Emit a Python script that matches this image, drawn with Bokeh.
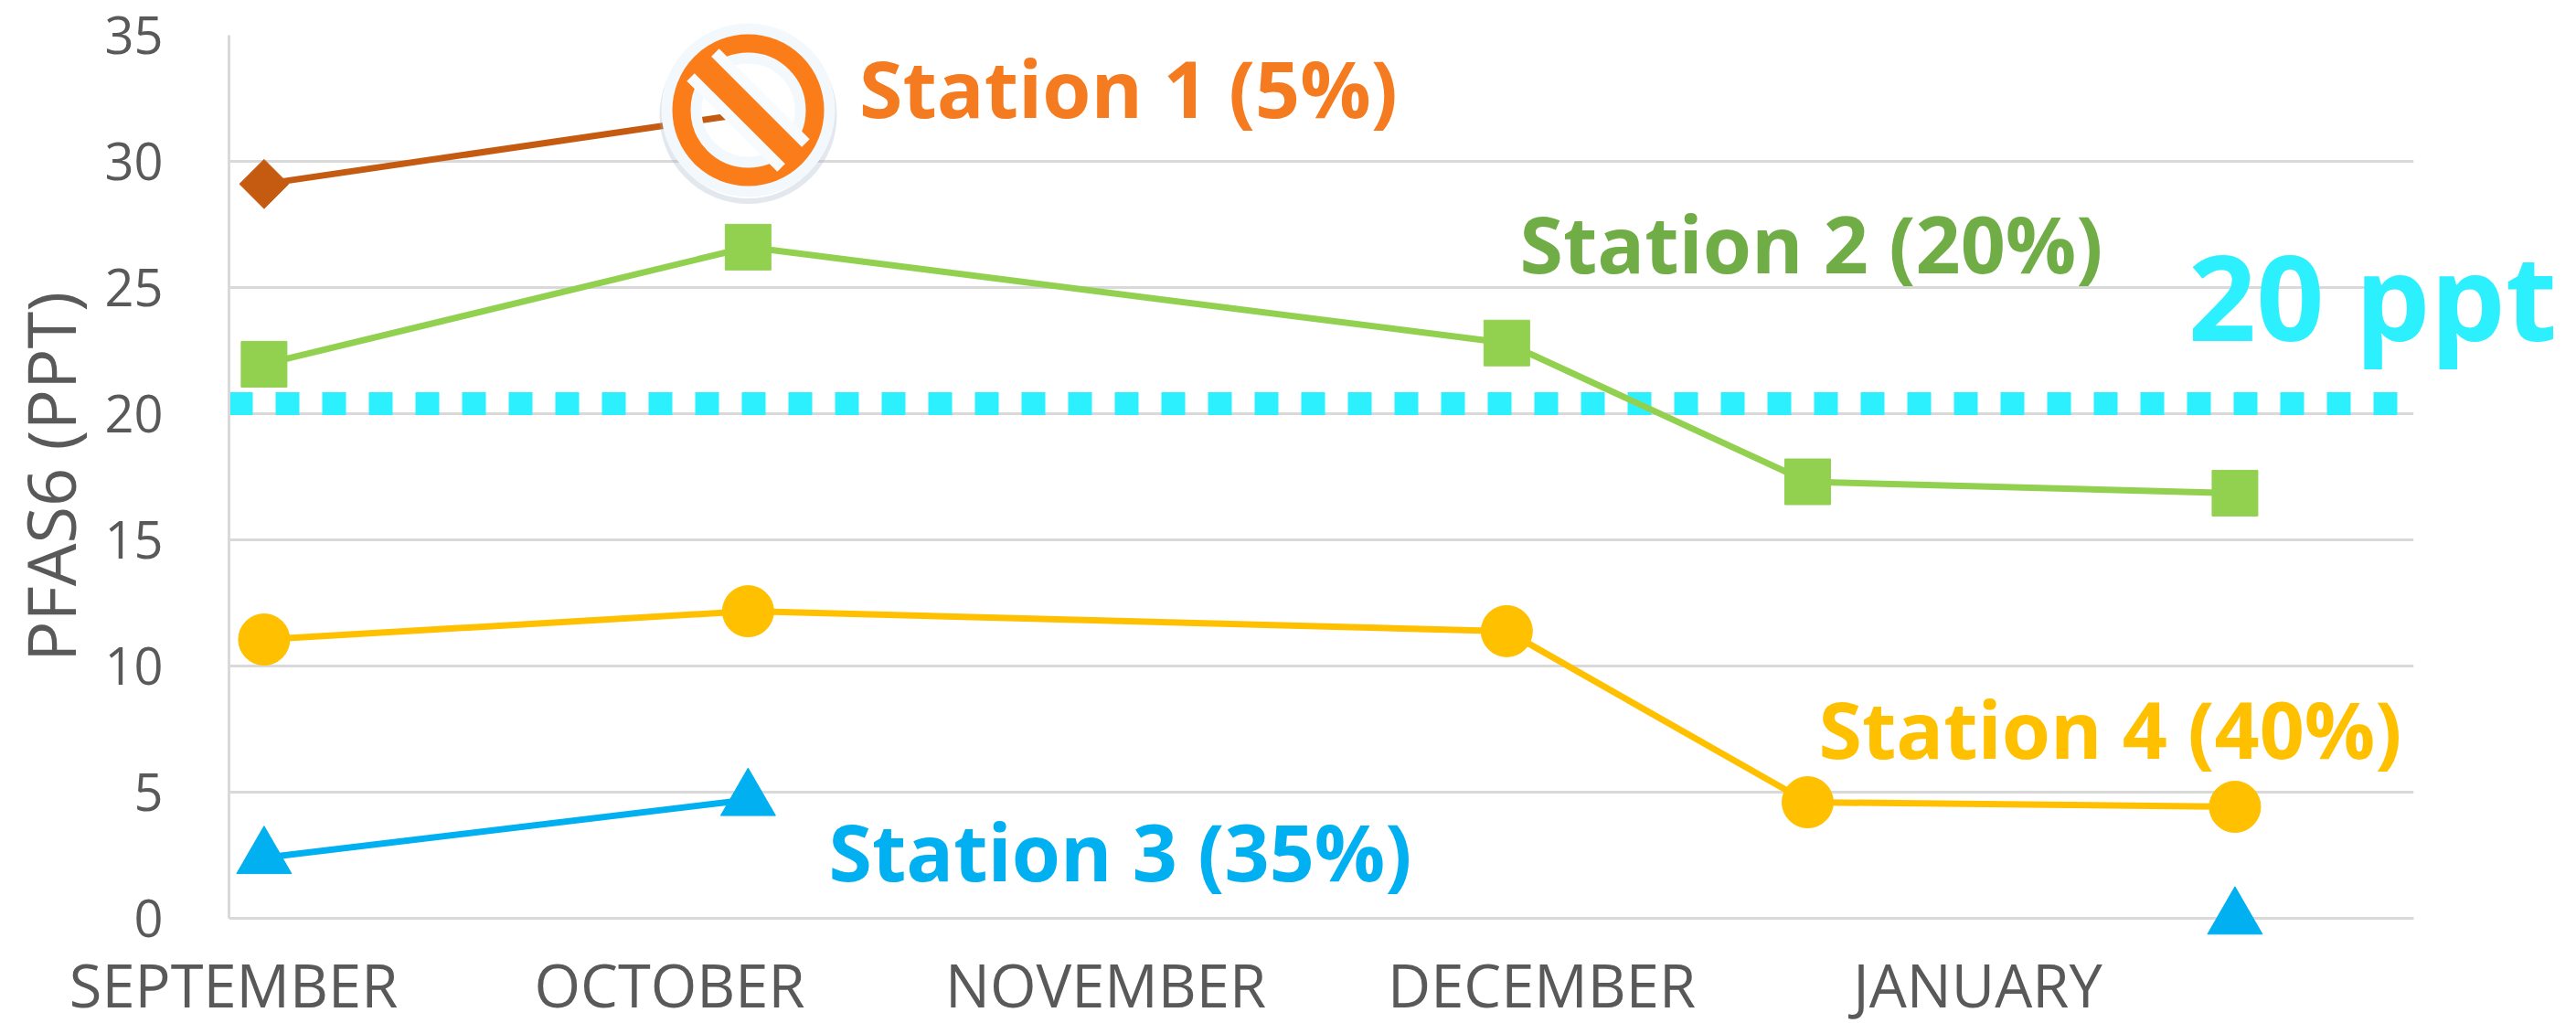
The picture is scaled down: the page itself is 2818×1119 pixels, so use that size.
from math import pi
from bokeh.plotting import figure
from bokeh.models import Range1d, FixedTicker
from bokeh.core.properties import value
from bokeh.embed import file_html
from bokeh.resources import INLINE

months = ["SEPTEMBER", "OCTOBER", "NOVEMBER", "DECEMBER", "JANUARY"]
month_pos = [0, 1, 2, 3, 4]
yticks = [0, 5, 10, 15, 20, 25, 30, 35]

x_all = [0.07, 1.18, 2.92, 3.61, 4.59]
s1_x = [0.07, 1.18]
s1_y = [29.1, 31.9]
s2_y = [21.96, 26.6, 22.8, 17.3, 16.85]
s3_x = [0.07, 1.18]
s3_y = [2.4, 4.7]
s3_extra_x = [4.59]
s3_extra_y = [0.0]
s4_y = [11.05, 12.17, 11.38, 4.6, 4.42]
limit = 20.4

C1, C1T = "#C55A11", "#F47B20"
C2, C2T = "#92D050", "#70AD47"
C3 = "#00B0F0"
C4 = "#FFC000"
CL = "#2DF0FF"
GREY = "#595959"
GRID = "#D9D9D9"
FONT = "Open Sans"

p = figure(width=2818, height=1119, output_backend="svg", toolbar_location=None,
           x_range=Range1d(-0.0105, 5.0), y_range=Range1d(0, 35),
           min_border_left=250, min_border_right=178, min_border_top=38, min_border_bottom=115)
p.outline_line_color = None
p.xgrid.visible = False
p.ygrid.grid_line_color = GRID
p.ygrid.grid_line_width = 3
p.ygrid.ticker = FixedTicker(ticks=yticks)

for ax in (p.xaxis[0], p.yaxis[0]):
    ax.axis_line_color = GRID
    ax.axis_line_width = 3
    ax.major_tick_line_color = None
    ax.minor_tick_line_color = None
    ax.major_label_text_font = FONT
    ax.major_label_text_color = GREY

p.xaxis[0].ticker = FixedTicker(ticks=[])
p.yaxis[0].ticker = FixedTicker(ticks=yticks)
p.yaxis[0].major_label_text_font_size = "56px"
p.yaxis[0].major_label_standoff = 66
p.yaxis[0].axis_label = "PFAS6 (PPT)"
p.yaxis[0].axis_label_text_font = FONT
p.yaxis[0].axis_label_text_font_style = "normal"
p.yaxis[0].axis_label_text_font_size = "74px"
p.yaxis[0].axis_label_text_color = GREY
p.yaxis[0].axis_label_standoff = 6

# month labels sit far below the axis line, as in the source chart
p.text(month_pos, [0] * len(month_pos), text=months, text_font=value(FONT), text_font_size="65px",
       text_color=GREY, text_align="center", text_baseline="middle", y_offset=72, level="overlay")

# limit line
p.line([-0.0105, 4.98], [limit, limit], line_color=CL, line_width=25, line_dash="26 25", line_cap="butt")

LW = 7
# Station 1
p.line(s1_x, s1_y, line_color=C1, line_width=LW)
p.scatter(s1_x[:1], s1_y[:1], marker="square", angle=pi / 4, size=38, color=C1)
# Station 2
p.line(x_all, s2_y, line_color=C2, line_width=LW)
p.scatter(x_all, s2_y, marker="square", size=50, color=C2)
# Station 4
p.line(x_all, s4_y, line_color=C4, line_width=LW)
p.scatter(x_all, s4_y, marker="circle", size=56, color=C4)
# Station 3
p.line(s3_x, s3_y, line_color=C3, line_width=LW)
p.scatter(s3_x, s3_y, marker="triangle", size=60, color=C3)
p.scatter(s3_extra_x, s3_extra_y, marker="triangle", size=60, color=C3, level="overlay")

# prohibition icon
ix, iy = (818 - 255) / 477, (1004 - 120) / 27.6
p.scatter([ix], [iy - 0.2], marker="circle", size=188, fill_color=None, line_color="#9fb3c4", line_alpha=0.3, line_width=6, level="overlay")
p.scatter([ix], [iy], marker="circle", size=146, fill_color=None, line_color="#F2F8FC", line_width=44, level="overlay")
p.scatter([ix], [iy], marker="circle", size=146, fill_color=None, line_color="#FB7D1A", line_width=20, level="overlay")
p.scatter([ix], [iy], marker="dash", angle=-pi / 4, size=140, line_color="#F7FBFE", line_width=50, level="overlay")
p.scatter([ix], [iy], marker="dash", angle=-pi / 4, size=146, line_color="#FB7D1A", line_width=26, level="overlay")

def add_label(text, px, py, color, size):
    p.text([(px - 255) / 477], [(1004 - py) / 27.6], text=[text], text_color=color,
           text_font=value(FONT), text_font_style="bold", text_font_size=size,
           text_align="center", text_baseline="middle", level="overlay")

add_label("Station 1 (5%)", 1234, 95, C1T, "86px")
add_label("Station 2 (20%)", 1981, 265, C2T, "86px")
add_label("Station 3 (35%)", 1225, 930, C3, "86px")
add_label("Station 4 (40%)", 2308, 796, C4, "86px")
add_label("20 ppt", 2595, 322, CL, "130px")

open("out.html", "w").write(file_html(p, INLINE))
